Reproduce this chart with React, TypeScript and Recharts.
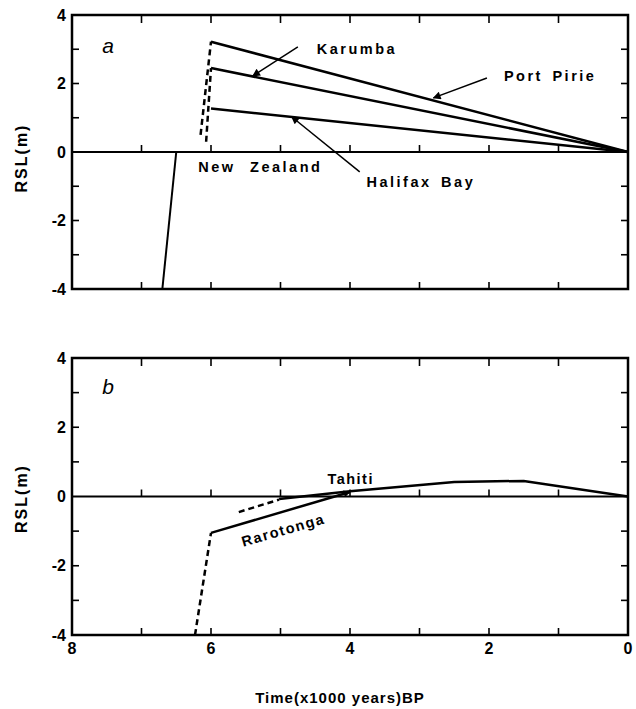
import React from "react";
import { LineChart, Line, XAxis, YAxis, ReferenceLine, ReferenceDot } from "recharts";

// ---- data (time in 1000 yr BP, RSL in m) ----
const xLabels = [0, 2, 4, 6, 8];
const yLabels = [-4, -2, 0, 2, 4];
const xMinor = [1, 2, 3, 4, 5, 6, 7];
const yMinor = [-3, -2, -1, 1, 2, 3];

const portPirie = [
  { t: 6, rsl: 3.22 },
  { t: 0, rsl: 0 },
];
const karumba = [
  { t: 6, rsl: 2.45 },
  { t: 0, rsl: 0 },
];
const halifaxBay = [
  { t: 6, rsl: 1.27 },
  { t: 0, rsl: 0 },
];
const dashUpper = [
  { t: 6.15, rsl: 0.5 },
  { t: 6, rsl: 3.22 },
];
const dashLower = [
  { t: 6.07, rsl: 0.3 },
  { t: 6, rsl: 2.45 },
];
const newZealand = [
  { t: 6.7, rsl: -4 },
  { t: 6.5, rsl: 0 },
];

const rarotongaDash = [
  { t: 6.23, rsl: -4 },
  { t: 6, rsl: -1.05 },
];
const rarotonga = [
  { t: 6, rsl: -1.05 },
  { t: 4, rsl: 0.13 },
];
const tahitiDash = [
  { t: 5.6, rsl: -0.45 },
  { t: 5.02, rsl: -0.09 },
];
const tahiti = [
  { t: 5.02, rsl: -0.07 },
  { t: 4, rsl: 0.15 },
  { t: 2.5, rsl: 0.42 },
  { t: 1.5, rsl: 0.45 },
  { t: 0, rsl: 0 },
];

// arrows: from label toward the curve
const arrowKarumba = [
  { t: 4.75, rsl: 3.07 },
  { t: 5.4, rsl: 2.22 },
];
const arrowPortPirie = [
  { t: 2.03, rsl: 2.16 },
  { t: 2.8, rsl: 1.58 },
];
const arrowHalifax = [
  { t: 3.86, rsl: -0.58 },
  { t: 4.84, rsl: 1.03 },
];

const FONT = "'Liberation Sans', Arial, Helvetica, sans-serif";
const INK = "#000";
const labelStyle = { fontFamily: FONT, fontSize: 16, fontWeight: "bold", fill: INK } as any;

// layout
const W = 636;
const AXIS_W = 72;
const RIGHT = 8;
const A = { h: 300, top: 15, bottom: 11 };
const B = { h: 409, top: 58, xAxisH: 74 };

// text placed at a data point (ReferenceDot with r=0)
function note(
  key: string,
  t: number,
  rsl: number,
  text: string,
  opts: { size?: number; italic?: boolean; angle?: number; ls?: number; ws?: number; weight?: string } = {}
) {
  const { size = 14.5, italic = false, angle = 0, ls = 2.5, ws = 0, weight = "bold" } = opts;
  return (
    <ReferenceDot
      key={key}
      x={t}
      y={rsl}
      r={0}
      fill="none"
      stroke="none"
      ifOverflow="visible"
      label={{
        content: (p: any) => {
          const vb = p.viewBox || {};
          const cx = (vb.x ?? 0) + (vb.width ?? 0) / 2;
          const cy = (vb.y ?? 0) + (vb.height ?? 0) / 2;
          return (
            <text
              x={cx}
              y={cy}
              textAnchor="middle"
              dominantBaseline="central"
              transform={angle ? `rotate(${angle} ${cx} ${cy})` : undefined}
              style={{
                fontFamily: FONT,
                fontSize: size,
                fontWeight: weight as any,
                fontStyle: italic ? "italic" : "normal",
                letterSpacing: ls,
                wordSpacing: ws,
                fill: INK,
              }}
            >
              {text}
            </text>
          );
        },
      }}
    />
  );
}

// short inward tick drawn at a data position
function tickMark(key: string, t: number, rsl: number, dx: number, dy: number) {
  return (
    <ReferenceDot
      key={key}
      x={t}
      y={rsl}
      r={0}
      ifOverflow="visible"
      shape={(p: any) => (
        <line
          x1={p.cx}
          y1={p.cy}
          x2={p.cx + dx}
          y2={p.cy + dy}
          stroke={INK}
          strokeWidth={1.6}
        />
      )}
    />
  );
}

const ticks = (id: string) => [
  ...xMinor.map((t) => tickMark(id + "b" + t, t, -4, 0, -7)),
  ...xMinor.map((t) => tickMark(id + "t" + t, t, 4, 0, 8)),
  ...xMinor.map((t) => tickMark(id + "z" + t, t, 0, 0, -7)),
  ...yMinor.map((v) => tickMark(id + "l" + v, 8, v, 7, 0)),
  ...yMinor.map((v) => tickMark(id + "r" + v, 0, v, -7, 0)),
];

function series(key: string, data: any[], dashed = false, width = 2.5, marker?: string) {
  return (
    <Line
      key={key}
      data={data}
      dataKey="rsl"
      type="linear"
      stroke={INK}
      strokeWidth={width}
      strokeDasharray={dashed ? "6 4" : undefined}
      markerEnd={marker ? `url(#${marker})` : undefined}
      dot={false}
      activeDot={false}
      legendType="none"
      isAnimationActive={false}
    />
  );
}

const rslLabel = (shift: number) => ({
  content: (p: any) => {
    const vb = p.viewBox || {};
    const cx = 21;
    const cy = (vb.y ?? 0) + (vb.height ?? 0) / 2 + shift;
    return (
      <text
        x={cx}
        y={cy}
        textAnchor="middle"
        dominantBaseline="central"
        transform={`rotate(-90 ${cx} ${cy})`}
        style={{ fontFamily: FONT, fontSize: 16, fontWeight: "bold", letterSpacing: 2, fill: INK }}
      >
        RSL(m)
      </text>
    );
  },
});

const arrowDefs = (id: string, w: number, h: number) => (
  <defs>
    <marker
      id={id}
      viewBox="0 0 10 10"
      refX="9"
      refY="5"
      markerWidth={w}
      markerHeight={h}
      markerUnits="userSpaceOnUse"
      orient="auto"
    >
      <path d="M0,0 L10,5 L0,10 z" fill={INK} />
    </marker>
  </defs>
);

// plot border from the chart's own margins
const border = (top: number, height: number) => (
  <rect
    x={AXIS_W}
    y={top}
    width={W - AXIS_W - RIGHT}
    height={height}
    fill="none"
    stroke={INK}
    strokeWidth={2.5}
  />
);

const valueAxis = (shift: number) => (
  <YAxis
    type="number"
    domain={[-4, 4]}
    ticks={yLabels}
    width={AXIS_W}
    axisLine={false}
    tickLine={false}
    tickSize={0}
    tickMargin={6}
    tick={labelStyle}
    label={rslLabel(shift)}
  />
);

export default function App() {
  return (
    <div
      style={{
        position: "absolute",
        left: 0,
        top: 0,
        width: W,
        height: 709,
        background: "#fff",
      }}
    >
      <LineChart width={W} height={A.h} margin={{ top: A.top, right: RIGHT, bottom: A.bottom, left: 0 }}>
        {arrowDefs("arrowHead", 10, 8)}
        {border(A.top, A.h - A.top - A.bottom)}
        <XAxis dataKey="t" type="number" domain={[0, 8]} reversed hide />
        {valueAxis(6)}
        <ReferenceLine y={0} stroke={INK} strokeWidth={2.2} />
        {series("pp", portPirie)}
        {series("ka", karumba)}
        {series("hb", halifaxBay)}
        {series("du", dashUpper, true)}
        {series("dl", dashLower, true)}
        {series("nz", newZealand, false, 2)}
        {series("aka", arrowKarumba, false, 1.5, "arrowHead")}
        {series("app", arrowPortPirie, false, 1.5, "arrowHead")}
        {series("ahb", arrowHalifax, false, 1.5, "arrowHead")}
        {note("na", 7.48, 3.1, "a", { size: 21, italic: true, ls: 0, weight: "normal" })}
        {note("nka", 3.9, 3.0, "Karumba")}
        {note("npp", 1.12, 2.22, "Port Pirie", { ws: 3 })}
        {note("nhb", 2.98, -0.88, "Halifax Bay", { ws: 3 })}
        {note("nnz", 5.29, -0.44, "New Zealand", { ls: 2.5, ws: 8 })}
        {ticks("a")}
      </LineChart>
      <LineChart width={W} height={B.h} margin={{ top: B.top, right: RIGHT, bottom: 0, left: 0 }}>
        {arrowDefs("arrowHeadB", 9, 7)}
        {border(B.top, B.h - B.top - B.xAxisH)}
        <XAxis
          dataKey="t"
          type="number"
          domain={[0, 8]}
          reversed
          ticks={xLabels}
          height={B.xAxisH}
          axisLine={false}
          tickLine={false}
          tickSize={4}
          tickMargin={4}
          tick={labelStyle}
          label={{
            content: (p: any) => {
              const vb = p.viewBox || {};
              const cx = (vb.x ?? 0) + (vb.width ?? 0) / 2 - 10;
              const cy = (vb.y ?? 0) + 62;
              return (
                <text
                  x={cx}
                  y={cy}
                  textAnchor="middle"
                  dominantBaseline="central"
                  style={{ fontFamily: FONT, fontSize: 15, fontWeight: "bold", letterSpacing: 1, fill: INK }}
                >
                  Time(x1000 years)BP
                </text>
              );
            },
          }}
        />
        {valueAxis(2)}
        <ReferenceLine y={0} stroke={INK} strokeWidth={2.2} />
        {series("rd", rarotongaDash, true)}
        {series("ra", rarotonga, false, 2.5, "arrowHeadB")}
        {series("td", tahitiDash, true)}
        {series("ta", tahiti)}
        {note("nb", 7.48, 3.17, "b", { size: 21, italic: true, ls: 0, weight: "normal" })}
        {note("nta", 3.99, 0.5, "Tahiti", { ls: 1.5 })}
        {note("nra", 4.96, -0.97, "Rarotonga", { angle: -16, ls: 1.5 })}
        {ticks("b")}
      </LineChart>
    </div>
  );
}
